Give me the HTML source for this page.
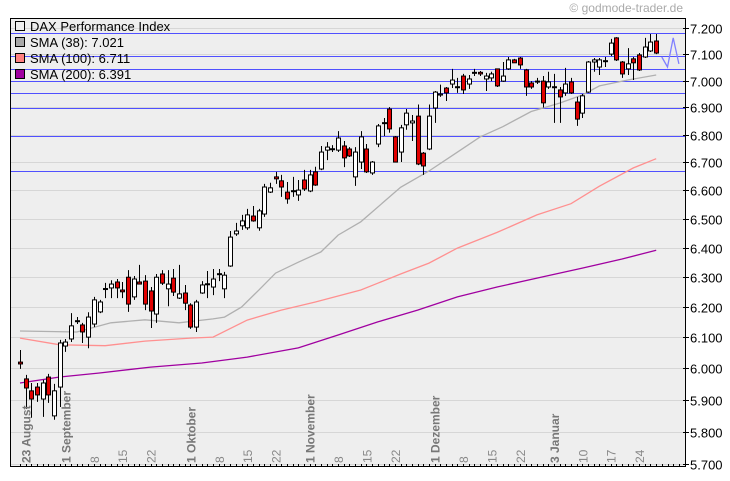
<!DOCTYPE html>
<html><head><meta charset="utf-8"><style>
html,body{margin:0;padding:0;background:#fff;}
svg{display:block;font-family:"Liberation Sans",sans-serif;}
</style></head><body>
<svg id="chart" width="730" height="481" viewBox="0 0 730 481" xmlns="http://www.w3.org/2000/svg">
<text x="683" y="12" text-anchor="end" font-size="12" fill="#aaa">© godmode-trader.de</text>
<rect x="10.5" y="18.5" width="675" height="448" fill="#eeeeee" stroke="#000" stroke-width="1"/>
<g id="grid"></g><g id="hlines"></g><g id="smas"></g><g id="candles"></g><g id="xaxis"></g><g id="yaxis"></g>
<g>
<g><rect x="15.5" y="21.5" width="9" height="9" fill="#eee" stroke="#000"/><text x="30" y="31" font-size="13">DAX Performance Index</text></g>
<g><rect x="15.5" y="37.5" width="9" height="9" fill="#a8a8a8" stroke="#000"/><text x="30" y="47" font-size="13">SMA (38): 7.021</text></g>
<g><rect x="15.5" y="53.5" width="9" height="9" fill="#ff8080" stroke="#000"/><text x="30" y="63" font-size="13">SMA (100): 6.711</text></g>
<g><rect x="15.5" y="69.5" width="9" height="9" fill="#a000a0" stroke="#000"/><text x="30" y="79" font-size="13">SMA (200): 6.391</text></g>
</g>
</svg>
<script>
const opens=[6020,5966,5928,5940,5902,5972,5849,5940,6072,6095,6152,6141,6101,6144,6184,6260,6264,6284,6257,6300,6234,6284,6287,6254,6177,6311,6261,6297,6230,6247,6207,6134,6247,6276,6267,6310,6261,6338,6448,6476,6469,6510,6469,6517,6594,6648,6634,6594,6597,6584,6637,6598,6666,6676,6744,6747,6744,6759,6748,6648,6701,6748,6662,6766,6842,6894,6792,6737,6836,6843,6868,6733,6748,6898,6946,6972,6987,6975,7017,6987,7029,7031,7006,7010,7044,6998,7044,7078,7085,7040,6991,6998,6998,6976,6975,6965,6954,6995,6920,6879,6957,7070,7051,7073,7100,7162,7070,7044,7082,7097,7089,7112,7150];
const highs=[6059,5979,5953,5953,5963,5982,5950,6092,6095,6180,6167,6148,6183,6234,6224,6281,6290,6294,6284,6324,6304,6342,6307,6267,6311,6324,6324,6328,6342,6274,6213,6224,6287,6321,6328,6328,6318,6458,6486,6514,6535,6545,6535,6623,6627,6666,6655,6630,6648,6637,6673,6673,6684,6759,6773,6762,6813,6777,6755,6755,6813,6766,6705,6839,6861,6901,6795,6836,6894,6872,6911,6737,6911,6961,6985,6976,7044,7010,7025,7021,7044,7036,7029,7033,7044,7070,7089,7082,7089,7044,6998,7010,7017,7033,7025,6976,7048,7010,6939,6950,7074,7085,7085,7089,7158,7165,7074,7123,7089,7104,7162,7177,7177];
const lows=[5998,5871,5843,5893,5846,5890,5837,5877,6053,6085,6144,6082,6065,6134,6180,6230,6230,6230,6230,6184,6224,6277,6190,6131,6148,6274,6203,6237,6227,6190,6128,6118,6244,6230,6240,6287,6230,6335,6441,6462,6462,6490,6459,6507,6591,6623,6577,6553,6577,6563,6598,6594,6616,6672,6708,6737,6737,6683,6719,6616,6676,6662,6655,6755,6795,6807,6701,6701,6818,6777,6690,6655,6744,6843,6939,6924,6972,6954,6950,6969,7017,7017,6961,6998,6976,6995,7040,7067,7044,6943,6969,6987,6900,6969,6843,6843,6943,6950,6832,6861,6954,7033,7021,7051,7093,7074,7010,7021,7002,7036,7085,7108,7100];
const closes=[6014,5937,5902,5915,5953,5915,5928,6082,6085,6138,6155,6118,6167,6224,6217,6262,6277,6264,6251,6210,6294,6277,6210,6187,6300,6280,6277,6250,6244,6213,6134,6217,6274,6278,6294,6312,6307,6437,6458,6493,6514,6493,6528,6612,6609,6641,6612,6570,6599,6601,6605,6655,6619,6737,6755,6749,6788,6716,6723,6737,6792,6666,6701,6832,6844,6821,6701,6825,6879,6850,6694,6687,6868,6957,6950,6954,7002,6977,6965,7006,7031,7025,7017,7025,6980,7017,7078,7067,7059,6976,6976,6995,6917,6995,6977,6939,6987,6954,6857,6943,7070,7078,7078,7075,7142,7078,7025,7063,7067,7040,7127,7146,7104];
const projIdx=[112,113,114,115,116];
const projVals=[7104,7089,7051,7162,7063];
const sma38Idx=[0,10,16,22,28,34,36,39,42,45,49,53,56,60,67,72,76,81,85,90,95,99,102,107,112];
const sma38Vals=[6121,6118,6148,6158,6148,6161,6167,6200,6256,6314,6351,6386,6444,6490,6611,6669,6723,6792,6829,6885,6916,6946,6980,7002,7021];
const sma100Idx=[0,7,15,22,30,34,40,46,52,60,63,67,72,77,84,91,97,102,108,112];
const sma100Vals=[6098,6076,6073,6088,6098,6101,6157,6190,6217,6257,6280,6311,6348,6399,6453,6514,6553,6615,6680,6713];
const sma200Idx=[0,7,14,23,32,40,49,56,63,70,77,84,92,99,106,112];
const sma200Vals=[5953,5972,5985,6004,6017,6036,6066,6108,6151,6190,6234,6267,6301,6331,6362,6392];
const levels=[7181,7093,7042,7000,6955,6898,6795,6668];
const yTicks=[7200,7100,7000,6900,6800,6700,6600,6500,6400,6300,6200,6100,6000,5900,5800,5700];
const xLabelIdx=[1,8,13,18,23,30,35,40,45,51,56,61,66,73,78,83,88,94,99,104,109];
const xLabelText=["23 August","1 September","8","15","22","1 Oktober","8","15","22","1 November","8","15","22","1 Dezember","8","15","22","3 Januar","10","17","24"];
const nDays=117;

const NS="http://www.w3.org/2000/svg";
function X(i){return 20+i*5.68;}
function Y(v){return 28+1866.5*Math.log(7200/v);}
function mk(tag,attrs,parent){const e=document.createElementNS(NS,tag);for(const k in attrs)e.setAttribute(k,attrs[k]);parent.appendChild(e);return e;}
const grid=document.getElementById('grid'),hl=document.getElementById('hlines'),sm=document.getElementById('smas'),cg=document.getElementById('candles'),xa=document.getElementById('xaxis'),ya=document.getElementById('yaxis');

yTicks.forEach(v=>{const y=Math.round(Y(v))+0.5;
 const g=mk('line',{x1:11,x2:685,y1:y,y2:y,stroke:'#d6d6d6','stroke-width':1},grid);
 
 
 const t=mk('line',{x1:683,x2:689,y1:y,y2:y,stroke:'#000','stroke-width':1},ya);
 
 
 const tx=mk('text',{x:690,y:y+5,'font-size':13,fill:'#000'},ya);
 tx.textContent=(v/1000).toFixed(3);
 
 
});
levels.forEach(v=>{const y=Math.round(Y(v))+0.5;
 const l=mk('line',{x1:11,x2:685,y1:y,y2:y,stroke:'#5050ff','stroke-width':1},hl);
 
 
});
function line(idx,vals,color,name){
 const p=idx.map((i,k)=>X(i).toFixed(1)+','+Y(vals[k]).toFixed(1)).join(' ');
 const e=mk('polyline',{points:p,fill:'none',stroke:color,'stroke-width':1.3},sm);
 
 
}
line(sma200Idx,sma200Vals,'#a000a0','sma200-line');
line(sma100Idx,sma100Vals,'#ff9090','sma100-line');
line(sma38Idx,sma38Vals,'#b0b0b0','sma38-line');
line(projIdx.slice(1),projVals.slice(1),'#8080ff','projection-line');

opens.forEach((o,i)=>{
 const c=closes[i],x=Math.round(X(i))+0.5;
 const w=mk('line',{x1:x,x2:x,y1:Y(highs[i]),y2:Y(lows[i]),stroke:'#000','stroke-width':1},cg);
 
 
 const top=Y(Math.max(o,c)),bot=Y(Math.min(o,c));
 const r=mk('rect',{x:x-2,y:top,width:4,height:Math.max(1,bot-top),fill:c>=o?'#ffffff':'#e00000',stroke:'#000','stroke-width':1},cg);
 
 
});

for(let i=0;i<nDays;i++){const x=Math.round(X(i))+0.5;
 const t=mk('line',{x1:x,x2:x,y1:464,y2:467,stroke:'#000','stroke-width':1},xa);
 
 
}
xLabelIdx.forEach((i,k)=>{const x=X(i)+5,y=463;const month=xLabelText[k].length>2;
 const t=mk('text',{x:x,y:y,transform:'rotate(-90 '+x+' '+y+')','font-size':12,'font-weight':month?'bold':'normal',fill:month?'#777':'#888'},xa);
 t.textContent=xLabelText[k];
 
 
});
</script>
</body></html>
